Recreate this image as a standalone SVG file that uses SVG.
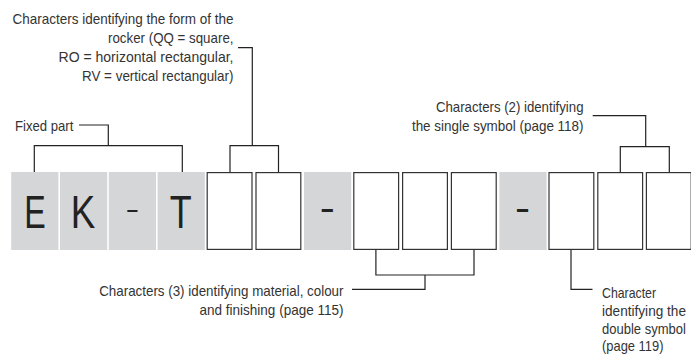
<svg xmlns="http://www.w3.org/2000/svg" width="691" height="354" viewBox="0 0 691 354">
<style>
.g{fill:#d5d6d8}
.w{fill:#fff;stroke:#333;stroke-width:1.2}
.big{font-family:"Liberation Sans",Arial,sans-serif;font-size:46px;fill:#222}
.lbl{font-family:"Liberation Sans",Arial,sans-serif;font-size:15px;fill:#333}
.dash{font-family:"Liberation Sans",Arial,sans-serif;font-size:25px;font-weight:bold;fill:#222}
.c{fill:none;stroke:#222;stroke-width:1.2}
</style>
<rect width="691" height="354" fill="#fff"/>
<g id="box-E"><rect class="g" x="11.2" y="172" width="47.2" height="78"/><text class="big" x="35" y="228" text-anchor="middle" textLength="21.5" lengthAdjust="spacingAndGlyphs">E</text></g>
<g id="box-K"><rect class="g" x="60" y="172" width="47.2" height="78"/><text class="big" x="82.9" y="228" text-anchor="middle" textLength="24.5" lengthAdjust="spacingAndGlyphs">K</text></g>
<g id="box-hyphen1"><rect class="g" x="108.8" y="172" width="47.2" height="78"/><text class="big" style="font-size:24px" x="132.3" y="216.8" text-anchor="middle" textLength="13.8" lengthAdjust="spacingAndGlyphs">-</text></g>
<g id="box-T"><rect class="g" x="157.6" y="172" width="47.2" height="78"/><text class="big" x="180.8" y="228" text-anchor="middle" textLength="21.9" lengthAdjust="spacingAndGlyphs">T</text></g>
<g id="box-4"><rect class="w" x="207.2" y="172.6" width="44.8" height="76.8"/></g>
<g id="box-5"><rect class="w" x="256" y="172.6" width="44.8" height="76.8"/></g>
<g id="box-hyphen2"><rect class="g" x="304" y="172" width="47.2" height="78"/><text class="dash" x="327.4" y="217.1" text-anchor="middle" textLength="14.6" lengthAdjust="spacingAndGlyphs">-</text></g>
<g id="box-7"><rect class="w" x="353.8" y="172.6" width="44.8" height="76.8"/></g>
<g id="box-8"><rect class="w" x="402.6" y="172.6" width="44.8" height="76.8"/></g>
<g id="box-9"><rect class="w" x="451.4" y="172.6" width="44.8" height="76.8"/></g>
<g id="box-hyphen3"><rect class="g" x="499.4" y="172" width="47.2" height="78"/><text class="dash" x="522.6" y="217.1" text-anchor="middle" textLength="14.6" lengthAdjust="spacingAndGlyphs">-</text></g>
<g id="box-11"><rect class="w" x="549" y="172.6" width="44.8" height="76.8"/></g>
<g id="box-12"><rect class="w" x="597.8" y="172.6" width="44.8" height="76.8"/></g>
<g id="box-13"><rect class="w" x="646.4" y="172.6" width="44.8" height="76.8"/></g>

<g id="label-rocker">
<text class="lbl" x="233.5" y="24.3" text-anchor="end" textLength="221" lengthAdjust="spacingAndGlyphs">Characters identifying the form of the</text>
<text class="lbl" x="233.5" y="43.3" text-anchor="end" textLength="125.5" lengthAdjust="spacingAndGlyphs">rocker (QQ = square,</text>
<text class="lbl" x="233.5" y="62" text-anchor="end" textLength="175" lengthAdjust="spacingAndGlyphs">RO = horizontal rectangular,</text>
<text class="lbl" x="233.5" y="81" text-anchor="end" textLength="151.5" lengthAdjust="spacingAndGlyphs">RV = vertical rectangular)</text>
</g>
<g id="label-fixed"><text class="lbl" x="15" y="131.3" textLength="58.3" lengthAdjust="spacingAndGlyphs">Fixed part</text></g>
<g id="label-single">
<text class="lbl" x="583.5" y="112.3" text-anchor="end" textLength="147.6" lengthAdjust="spacingAndGlyphs">Characters (2) identifying</text>
<text class="lbl" x="583.5" y="131" text-anchor="end" textLength="171.6" lengthAdjust="spacingAndGlyphs">the single symbol (page 118)</text>
</g>
<g id="label-material">
<text class="lbl" x="343.5" y="296" text-anchor="end" textLength="244.3" lengthAdjust="spacingAndGlyphs">Characters (3) identifying material, colour</text>
<text class="lbl" x="343.5" y="315" text-anchor="end" textLength="144" lengthAdjust="spacingAndGlyphs">and finishing (page 115)</text>
</g>
<g id="label-double" transform="translate(602 0) scale(0.9 1)">
<text class="lbl" x="0" y="297.8" textLength="60" lengthAdjust="spacingAndGlyphs">Character</text>
<text class="lbl" x="0" y="315.8" textLength="93.3" lengthAdjust="spacingAndGlyphs">identifying the</text>
<text class="lbl" x="0" y="333.8" textLength="93.3" lengthAdjust="spacingAndGlyphs">double symbol</text>
<text class="lbl" x="0" y="351" textLength="68.3" lengthAdjust="spacingAndGlyphs">(page 119)</text>
</g>

<g id="connectors">
<path class="c" d="M79 125H108.3V145.7M34.3 172V145.7H182.3V172"/>
<path class="c" d="M238 47.7H252.3V145.7M230 172V145.7H278.5V172"/>
<path class="c" d="M592.7 115.7H645.7V146.7M620.3 172V146.7H669.3V172"/>
<path class="c" d="M375.9 250V275H474V250M425 275V289.3H352"/>
<path class="c" d="M571 250V289.3H592.5"/>
</g>
</svg>
